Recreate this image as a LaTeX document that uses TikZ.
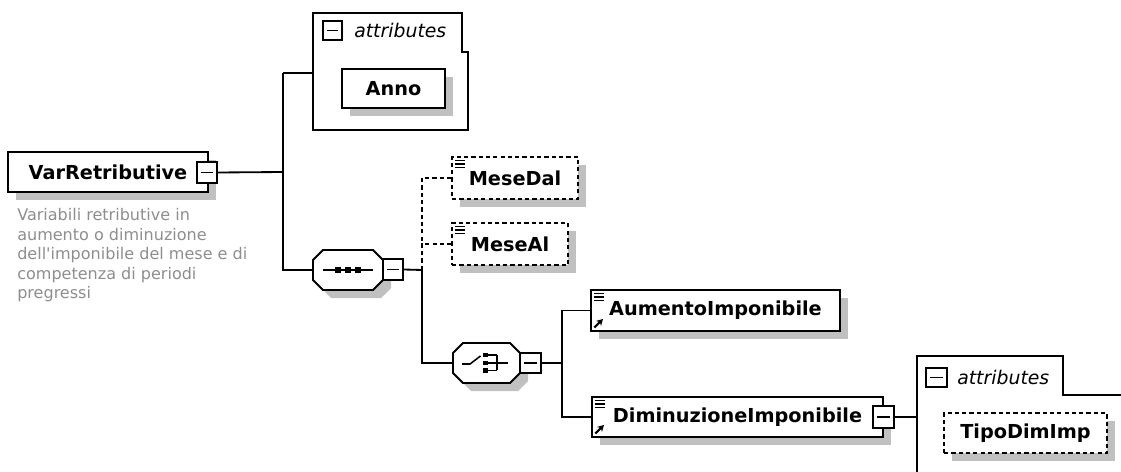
\documentclass[tikz,border=0pt]{standalone}
\usepackage{fontspec}
\setmainfont{DejaVu Sans}
\usepackage{xcolor}
\usetikzlibrary{arrows.meta, calc, shadows}
\definecolor{inkC}{HTML}{000000}
\definecolor{paperC}{HTML}{FFFFFF}
\definecolor{shadeC}{HTML}{C0C0C0}
\definecolor{noteC}{HTML}{8E8E8E}

% small marks inside the element boxes
\newcommand{\listmark}{%
  \foreach \dy in {3.5,7,10.5}{
    \draw[inkC, line width=0.9pt, dash pattern=]
      ([shift={(3,\dy)}]path picture bounding box.north west) --
      ([shift={(13,\dy)}]path picture bounding box.north west);
  }%
}
\newcommand{\refmark}{%
  \draw[inkC, line width=1.5pt, solid, -{Stealth[length=4.5pt, width=5pt]}]
    ([shift={(3.5,-3.5)}]path picture bounding box.south west) --
    ([shift={(12,-12)}]path picture bounding box.south west);
}

\begin{document}
\begin{tikzpicture}[
  x=0.025cm,
  y=-0.025cm,
  box/.style={draw=inkC, fill=paperC, line width=1.3pt, inner sep=0pt,
    font=\fontsize{13.7}{16}\selectfont\bfseries,
    general shadow={fill=shadeC, shadow xshift=0.2cm, shadow yshift=-0.2cm}},
  elem/.style={box, path picture={\listmark}},
  refelem/.style={box, path picture={\listmark\refmark}},
  optbox/.style={dash pattern=on 3pt off 2.2pt},
  grp/.style={inner sep=0pt, minimum height=1cm},
  grpline/.style={draw=inkC, fill=paperC, line width=1.3pt,
    general shadow={fill=shadeC, shadow xshift=0.2cm, shadow yshift=-0.2cm}},
  btn/.style={draw=inkC, fill=paperC, line width=1.2pt, inner sep=0pt,
    minimum width=0.5cm, minimum height=0.525cm,
    path picture={\draw[inkC, line width=1.2pt]
      ([xshift=0.1cm]path picture bounding box.west) --
      ([xshift=-0.1cm]path picture bounding box.east);}},
  attrlbl/.style={anchor=west, inner sep=0pt, text=inkC,
    font=\fontsize{13.4}{15}\selectfont\itshape},
  note/.style={align=left, inner sep=0pt, text=noteC,
    font=\fontsize{11.4}{13.9}\selectfont},
  wire/.style={draw=inkC, line width=1.3pt},
  sym/.style={draw=inkC, line width=1.1pt}
]

\fill[paperC] (0,0) rectangle (1121,472);
\useasboundingbox (0,0) rectangle (1121,472);

% Root element
\node[box, minimum width=5cm, minimum height=1cm] (var) at (108,172) {VarRetributive\hspace{0.15cm}};
\node[btn] (varbtn) at (207,172.5) {};
\node[note, anchor=north west] (vardoc) at (17,208)
  {Variabili retributive in\\aumento o diminuzione\\dell\textquotesingle imponibile del mese e di\\competenza di periodi\\pregressi};

% Attributes of the root
\draw[wire] (313,13) -- (462,13) -- (462,52) -- (468,52) -- (468,130) -- (313,130) -- cycle;
\coordinate (attrA) at (313,73);
\node[btn, minimum width=0.475cm, minimum height=0.475cm] (attrbtnA) at (332.5,30.5) {};
\node[attrlbl] (attrlblA) at (354,30.5) {attributes};
\node[box, minimum width=2.575cm, minimum height=0.975cm] (anno) at (393.5,88.5) {Anno};

% Model groups
\node[grp, minimum width=1.75cm] (seq) at (348,270) {};
\node[grp, minimum width=1.675cm] (choice) at (486.5,363) {};
\foreach \g/\hw in {seq/35, choice/33.5}{
  \begin{scope}[shift={(\g.center)}]
    \path[grpline] (-\hw+10,-20) -- (\hw-10,-20) -- (\hw,-10) -- (\hw,10)
      -- (\hw-10,20) -- (-\hw+10,20) -- (-\hw,10) -- (-\hw,-10) -- cycle;
  \end{scope}
}

% Sequence
\node[btn] (seqbtn) at (393,269.5) {};
\begin{scope}[shift={(seq.center)}]
  \draw[sym] (-25,0) -- (25,0);
  \foreach \dx in {-10,0,10}{
    \fill[inkC] ({\dx-2.6},-2.6) rectangle ({\dx+2.6},2.6);
  }
\end{scope}

\node[elem, optbox, minimum width=3.15cm, minimum height=1.05cm] (mesedal) at (515,178) {MeseDal};
\node[elem, optbox, minimum width=2.9cm, minimum height=1.05cm] (meseal) at (510,244) {MeseAl};

% Choice
\node[btn, minimum width=0.525cm, minimum height=0.5cm] (choicebtn) at (530.5,363) {};
\begin{scope}[shift={(choice.center)}]
  \draw[sym] (-24.5,1) -- (-16.5,1) -- (-6,-7);
  \foreach \dy in {-8,0,7.5}{
    \fill[inkC] (-4,{\dy-2.4}) rectangle (1,{\dy+2.4});
    \draw[sym] (1,\dy) -- (10.5,\dy);
  }
  \draw[sym] (10.5,-8) -- (10.5,7.5);
  \draw[sym] (10.5,0) -- (21.5,0);
\end{scope}

\node[refelem, minimum width=6.225cm, minimum height=1.025cm] (aumento) at (715.5,310.5) {AumentoImponibile};
\node[refelem, minimum width=7.275cm, minimum height=1cm] (dimin) at (737.5,417) {DiminuzioneImponibile\hspace{0.175cm}};
\node[btn, minimum width=0.525cm, minimum height=0.55cm] (diminbtn) at (883.5,417) {};

% Attributes of DiminuzioneImponibile
\draw[wire] (917,472) -- (917,356) -- (1063,356) -- (1063,395) -- (1121,395);
\coordinate (attrB) at (917,417);
\node[btn, minimum width=0.525cm, minimum height=0.475cm] (attrbtnB) at (936.5,377.5) {};
\node[attrlbl] (attrlblB) at (957,377.5) {attributes};
\node[box, optbox, minimum width=4.075cm, minimum height=1cm] (tipo) at (1025.5,433) {TipoDimImp};

% Connectors
\coordinate (jvar) at (283,172);
\coordinate (jseq) at (422,270);
\coordinate (jchoice) at (562,363);

\draw[wire] (varbtn.east) -- (jvar);
\draw[wire] (jvar |- attrA) -- (attrA);
\draw[wire] (jvar |- attrA) |- (seq.west);

\draw[wire] (seqbtn.east) -- (jseq);
\draw[wire, optbox] (jseq) |- (mesedal.west);
\draw[wire, optbox] (jseq) |- (meseal.west);
\draw[wire] (jseq) |- (choice.west);

\draw[wire] (choicebtn.east) -- (jchoice);
\draw[wire] (jchoice) |- (aumento.west);
\draw[wire] (jchoice) |- (dimin.west);

\draw[wire] (diminbtn.east) -- (attrB);

\end{tikzpicture}
\end{document}
